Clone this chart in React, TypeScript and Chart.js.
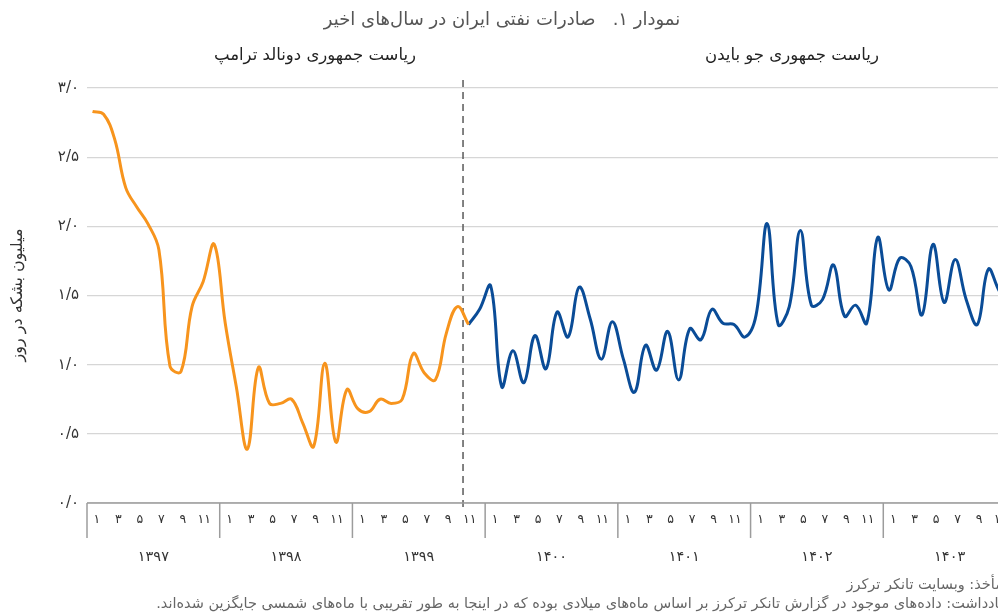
import React, { useEffect, useRef } from "react";
import { Chart, registerables } from "chart.js";

Chart.register(...registerables);

// ---------- data ----------
const years = [1397, 1398, 1399, 1400, 1401, 1402, 1403];
const monthTicks = [1, 3, 5, 7, 9, 11];
const yTicks = [0, 0.5, 1, 1.5, 2, 2.5, 3];

// monthly exports (million barrels per day), index 0 = month 1 of 1397
const trumpStart = 0;
const trumpValues = [
  2.83, 2.81, 2.63, 2.28, 2.14, 2.02, 1.83, 0.99, 0.95, 1.42, 1.6, 1.87,
  1.3, 0.84, 0.39, 0.98, 0.72, 0.72, 0.75, 0.58, 0.41, 1.01, 0.44, 0.82,
  0.68, 0.66, 0.75, 0.72, 0.75, 1.08, 0.94, 0.89, 1.23, 1.42, 1.29,
];
const bidenStart = 34;
const bidenValues = [
  1.29, 1.4, 1.57, 0.84, 1.1, 0.87, 1.21, 0.97, 1.38, 1.2, 1.56, 1.33,
  1.04, 1.31, 1.04, 0.8, 1.14, 0.96, 1.24, 0.89, 1.26, 1.18, 1.4, 1.3,
  1.29, 1.2, 1.36, 2.02, 1.29, 1.42, 1.97, 1.43, 1.47, 1.72, 1.35, 1.43,
  1.3, 1.92, 1.54, 1.77, 1.71, 1.36, 1.87, 1.45, 1.76, 1.47, 1.29, 1.69,
  1.53, 1.42,
];
const transitionMonth = 34; // start of Bahman 1399

const titleText = "نمودار ۱.   صادرات نفتی ایران در سال‌های اخیر";
const trumpLabel = "ریاست جمهوری دونالد ترامپ";
const bidenLabel = "ریاست جمهوری جو بایدن";
const yTitle = "میلیون بشکه در روز";
const sourceText = "مأخذ: وبسایت تانکر ترکرز";
const noteText =
  "یادداشت: داده‌های موجود در گزارش تانکر ترکرز بر اساس ماه‌های میلادی بوده که در اینجا به طور تقریبی با ماه‌های شمسی جایگزین شده‌اند.";

// ---------- helpers ----------
const FA_DIGITS = "۰۱۲۳۴۵۶۷۸۹";
const toFa = (s: string) => s.replace(/\d/g, (d) => FA_DIGITS[+d]);
const FONT = '"DejaVu Sans", "Noto Sans", sans-serif';

const ORANGE = "#F7941D";
const BLUE = "#0A4C97";

const toPoints = (start: number, vals: number[]) =>
  vals.map((v, k) => ({ x: start + k + 0.5, y: v }));

// month-label placement inside each year box (in month units)
const labelPos = (j: number) => 0.9 + j * 1.94;

const decorPlugin = {
  id: "decor",
  beforeDatasetsDraw(chart: any) {
    const { ctx } = chart;
    const xs = chart.scales.x;
    const ys = chart.scales.y;
    const base = ys.getPixelForValue(0);
    const px = xs.getPixelForValue(transitionMonth);
    ctx.save();
    ctx.strokeStyle = "#5a5a5a";
    ctx.lineWidth = 1.5;
    ctx.setLineDash([7, 5]);
    ctx.beginPath();
    ctx.moveTo(px, 80);
    ctx.lineTo(px, base + 9);
    ctx.stroke();
    ctx.restore();
  },
  afterDraw(chart: any) {
    const { ctx } = chart;
    const xs = chart.scales.x;
    const ys = chart.scales.y;
    const base = ys.getPixelForValue(0);
    ctx.save();
    // axis box
    ctx.strokeStyle = "#9c9c9c";
    ctx.lineWidth = 1.5;
    ctx.beginPath();
    ctx.moveTo(xs.left, base);
    ctx.lineTo(xs.right, base);
    ctx.stroke();
    for (let k = 0; k <= years.length; k++) {
      const p = xs.getPixelForValue(k * 12);
      ctx.beginPath();
      ctx.moveTo(p, base);
      ctx.lineTo(p, base + 35);
      ctx.stroke();
    }
    ctx.direction = "rtl";
    ctx.textBaseline = "middle";
    ctx.textAlign = "center";
    ctx.fillStyle = "#333";
    ctx.font = `12.5px ${FONT}`;
    years.forEach((yr, k) => {
      monthTicks.forEach((m, j) => {
        const p = xs.getPixelForValue(k * 12 + labelPos(j));
        ctx.fillText(toFa(String(m)), p, base + 17);
      });
    });
    ctx.font = `14.5px ${FONT}`;
    years.forEach((yr, k) => {
      const p = xs.getPixelForValue(k * 12 + 6);
      ctx.fillText(toFa(String(yr)), p, base + 54);
    });

    // title
    ctx.fillStyle = "#555";
    ctx.font = `18px ${FONT}`;
    ctx.fillText(titleText, 502, 20);

    // annotations
    ctx.fillStyle = "#222";
    ctx.font = `16.5px ${FONT}`;
    ctx.fillText(trumpLabel, 315, 56);
    ctx.fillText(bidenLabel, 792, 56);

    // y title
    ctx.save();
    ctx.translate(18, 295);
    ctx.rotate(-Math.PI / 2);
    ctx.fillStyle = "#333";
    ctx.font = `16px ${FONT}`;
    ctx.fillText(yTitle, 0, 0);
    ctx.restore();

    // footer
    ctx.textAlign = "right";
    ctx.fillStyle = "#666";
    ctx.font = `14.5px ${FONT}`;
    ctx.fillText(sourceText, 1003, 585);
    ctx.fillText(noteText, 1003, 604);
    ctx.restore();
  },
};

export default function App() {
  const ref = useRef<HTMLCanvasElement | null>(null);
  useEffect(() => {
    document.body.style.margin = "0";
    if (!ref.current) return;
    const chart = new Chart(ref.current, {
      type: "line",
      data: {
        datasets: [
          {
            data: toPoints(trumpStart, trumpValues),
            borderColor: ORANGE,
            borderWidth: 3,
            tension: 0.4,
            pointRadius: 0,
            fill: false,
          },
          {
            data: toPoints(bidenStart, bidenValues),
            borderColor: BLUE,
            borderWidth: 3,
            tension: 0.4,
            pointRadius: 0,
            fill: false,
          },
        ],
      },
      options: {
        responsive: false,
        animation: false,
        layout: { padding: { top: 88, bottom: 111, left: 0, right: 0 } },
        plugins: { legend: { display: false }, tooltip: { enabled: false } },
        scales: {
          x: { type: "linear", min: 0, max: 84, display: false },
          y: {
            min: 0,
            max: 3,
            afterBuildTicks: (s: any) => {
              s.ticks = yTicks.map((v) => ({ value: v }));
            },
            afterFit: (s: any) => {
              s.width = 87;
            },
            border: { display: false },
            grid: { color: "#d6d6d6", lineWidth: 1.3, drawTicks: false },
            ticks: {
              padding: 8,
              color: "#333",
              font: { family: FONT, size: 15 },
              callback: (v: any) => toFa(Number(v).toFixed(1).replace(".", "/")),
            },
          },
        },
      },
      plugins: [decorPlugin],
    });
    return () => chart.destroy();
  }, []);
  return (
    <div style={{ width: 998, height: 614, overflow: "hidden", position: "relative" }}>
      <canvas ref={ref} width={1016} height={614} style={{ display: "block" }} />
    </div>
  );
}
